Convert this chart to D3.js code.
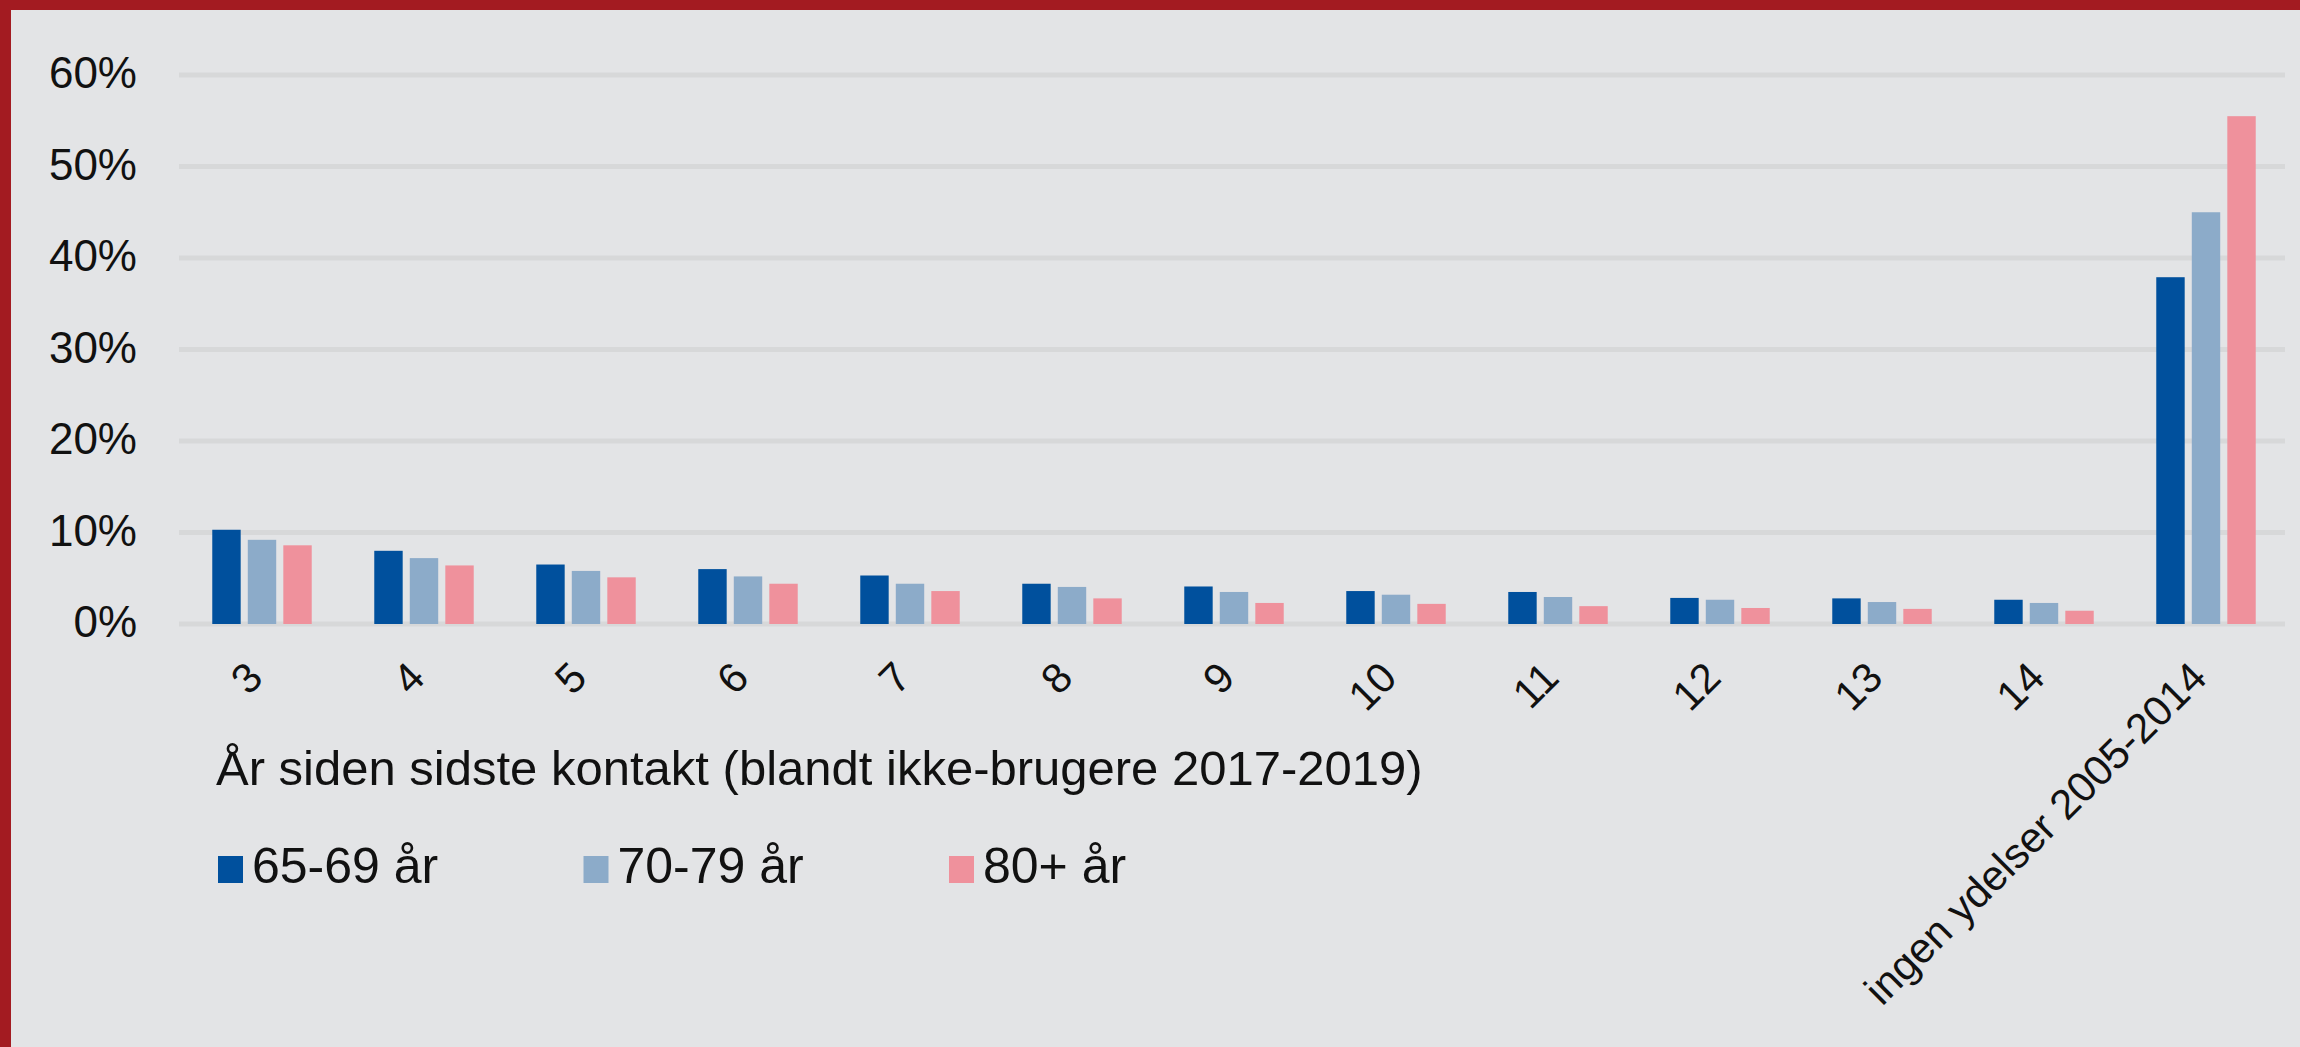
<!DOCTYPE html>
<html>
<head>
<meta charset="utf-8">
<script src="https://cdn.jsdelivr.net/npm/d3@7"></script>
<style>
  body { margin: 0; background: #e3e4e6; }
  svg { display: block; }
  text { font-family: "Liberation Sans", Arial, sans-serif; fill: #111; }
</style>
</head>
<body>
<svg id="chart"></svg>
<script>
// categories (years since last contact) and series
const categories = ["3", "4", "5", "6", "7", "8", "9", "10", "11", "12", "13", "14", "ingen ydelser 2005-2014"];
const seriesNames = ["65-69 år", "70-79 år", "80+ år"];
const age6569 = [10.3, 8.0, 6.5, 6.0, 5.3, 4.4, 4.1, 3.6, 3.5, 2.85, 2.8, 2.65, 37.9];
const age7079 = [9.2, 7.2, 5.8, 5.2, 4.4, 4.05, 3.5, 3.2, 2.95, 2.65, 2.4, 2.3, 45.0];
const age80   = [8.6, 6.4, 5.1, 4.4, 3.6, 2.8, 2.3, 2.2, 1.95, 1.75, 1.65, 1.45, 55.5];
const yTicks = [0, 10, 20, 30, 40, 50, 60];
const colors = ["#00509d", "#8cabc9", "#ef919c"];

const width = 2300, height = 1047;
const svg = d3.select("#chart").attr("width", width).attr("height", height);

// background + red frame (top and left)
svg.append("rect").attr("width", width).attr("height", height).attr("fill", "#e3e4e6");
svg.append("rect").attr("width", width).attr("height", 10).attr("fill", "#a31b21");
svg.append("rect").attr("width", 11).attr("height", height).attr("fill", "#a31b21");

const series = [age6569, age7079, age80];
const data = categories.map((c, i) => ({ cat: c, vals: series.map(s => s[i]) }));

const x0 = d3.scaleBand().domain(categories).range([181, 2287])
    .paddingInner(0.386).paddingOuter(0.193);
const x1 = d3.scaleBand().domain(d3.range(3)).range([0, x0.bandwidth()]).paddingInner(0.2);
const y = d3.scaleLinear().domain([0, 60]).range([624, 75]);

// gridlines
svg.append("g").selectAll("line")
    .data(yTicks)
    .enter().append("line")
    .attr("x1", 179).attr("x2", 2285)
    .attr("y1", d => y(d)).attr("y2", d => y(d))
    .attr("stroke", "#d7d8d9")
    .attr("stroke-width", 5);

// y labels
svg.append("g").selectAll("text")
    .data(yTicks)
    .enter().append("text")
    .attr("x", 137)
    .attr("y", d => y(d))
    .attr("dy", "0.3em")
    .attr("text-anchor", "end")
    .style("font-size", "44px")
    .text(d => d + "%");

// bars
let groups = svg.append("g").selectAll("g")
    .data(data)
    .enter().append("g")
    .attr("transform", d => `translate(${x0(d.cat)},0)`);

groups.selectAll("rect")
    .data(d => d.vals)
    .enter().append("rect")
    .attr("x", (d, i) => x1(i))
    .attr("width", x1.bandwidth())
    .attr("y", d => y(d))
    .attr("height", d => y(0) - y(d))
    .attr("fill", (d, i) => colors[i]);

// rotated category labels
svg.append("g").selectAll("text")
    .data(categories)
    .enter().append("text")
    .attr("transform", d => `translate(${x0(d) + x0.bandwidth() / 2 + 3},680) rotate(-45)`)
    .attr("text-anchor", "end")
    .style("font-size", "42px")
    .text(d => d);

// axis title
svg.append("text")
    .attr("x", 216)
    .attr("y", 785)
    .style("font-size", "49px")
    .text("År siden sidste kontakt (blandt ikke-brugere 2017-2019)");

// legend
let legend = svg.append("g").selectAll("g")
    .data(seriesNames)
    .enter().append("g")
    .attr("transform", (d, i) => `translate(${218 + i * 365.5},0)`);

legend.append("rect")
    .attr("y", 856)
    .attr("width", 25)
    .attr("height", 27)
    .attr("fill", (d, i) => colors[i]);

legend.append("text")
    .attr("x", 34)
    .attr("y", 883)
    .style("font-size", "50px")
    .text(d => d);
</script>
</body>
</html>
